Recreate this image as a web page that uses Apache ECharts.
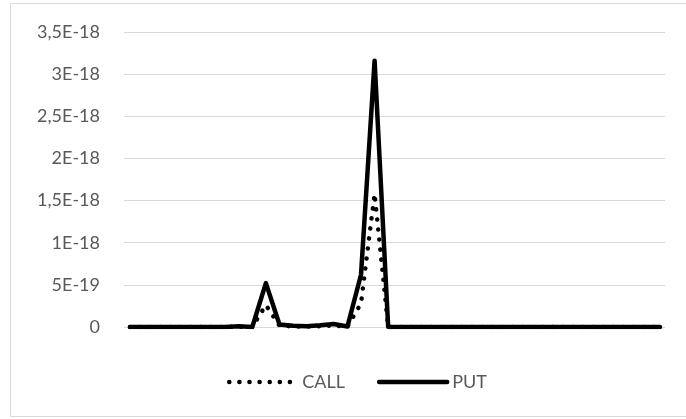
<!DOCTYPE html>
<html>
<head>
<meta charset="utf-8">
<script src="https://cdn.jsdelivr.net/npm/echarts@6/dist/echarts.min.js"></script>
<style>
html,body{margin:0;padding:0;background:#fff;}
#chart{width:686px;height:419px;}
</style>
</head>
<body>
<div id="chart"></div>
<script>
// category indices (no labels shown on the x axis)
var categories = [];
for (var i = 1; i <= 40; i++) categories.push(i);

var callValues = [
  0, 0, 0, 0, 0, 0, 0, 0, 0.005e-18, 0,
  0.26e-18, 0.015e-18, 0.008e-18, 0.005e-18, 0.01e-18, 0.018e-18, 0.003e-18, 0.28e-18, 1.58e-18, 0,
  0, 0, 0, 0, 0, 0, 0, 0, 0, 0,
  0, 0, 0, 0, 0, 0, 0, 0, 0, 0
];
var putValues = [
  0, 0, 0, 0, 0, 0, 0, 0, 0.01e-18, 0,
  0.52e-18, 0.03e-18, 0.015e-18, 0.01e-18, 0.02e-18, 0.035e-18, 0.005e-18, 0.62e-18, 3.16e-18, 0,
  0, 0, 0, 0, 0, 0, 0, 0, 0, 0,
  0, 0, 0, 0, 0, 0, 0, 0, 0, 0
];
var seriesNames = ['CALL', 'PUT'];
var yTickLabels = ['0', '5E-19', '1E-18', '1,5E-18', '2E-18', '2,5E-18', '3E-18', '3,5E-18'];

var UNIT = 1e-18;
function toPairs(arr) {
  return arr.map(function (v, i) { return [i, v / UNIT]; });
}

var textColor = '#595959';
var fontFamily = 'Lato, "Open Sans", sans-serif';
var callLine = {color: '#000', width: 4.5, type: [0.1, 10], cap: 'round', join: 'round'};
var putLine = {color: '#000', width: 4.5, type: 'solid', cap: 'round', join: 'round'};

var chart = echarts.init(document.getElementById('chart'), null, {renderer: 'canvas'});
chart.setOption({
  animation: false,
  backgroundColor: '#fff',
  graphic: [{
    type: 'rect',
    shape: {x: 10.5, y: 3.5, width: 690, height: 413},
    style: {fill: 'none', stroke: '#d9d9d9', lineWidth: 1},
    z: -10
  }],
  grid: {left: 124, right: 21, top: 32, bottom: 92},
  xAxis: {
    type: 'value',
    min: -0.44,
    max: categories.length - 1 + 0.37,
    axisLine: {show: false},
    axisTick: {show: false},
    axisLabel: {show: false},
    splitLine: {show: false}
  },
  yAxis: {
    type: 'value',
    min: 0,
    max: 3.5,
    interval: 0.5,
    axisLine: {show: false},
    axisTick: {show: false},
    axisLabel: {
      margin: 24,
      color: textColor,
      fontFamily: fontFamily,
      fontSize: 18,
      formatter: function (v) { return yTickLabels[Math.round(v / 0.5)]; }
    },
    splitLine: {lineStyle: {color: '#d9d9d9', width: 1}}
  },
  legend: {
    left: 222,
    top: 368,
    itemWidth: 68,
    itemHeight: 14,
    itemGap: 32,
    textStyle: {color: textColor, fontFamily: fontFamily, fontSize: 18},
    itemStyle: {opacity: 0},
    data: [
      {name: seriesNames[0], lineStyle: callLine, itemStyle: {opacity: 0}},
      {name: seriesNames[1], lineStyle: putLine, itemStyle: {opacity: 0}}
    ]
  },
  series: [
    {
      name: seriesNames[0],
      type: 'line',
      data: toPairs(callValues),
      symbol: 'none',
      color: '#000',
      lineStyle: callLine,
      z: 2
    },
    {
      name: seriesNames[1],
      type: 'line',
      data: toPairs(putValues),
      symbol: 'none',
      color: '#000',
      lineStyle: putLine,
      z: 3
    }
  ]
});
</script>
</body>
</html>
